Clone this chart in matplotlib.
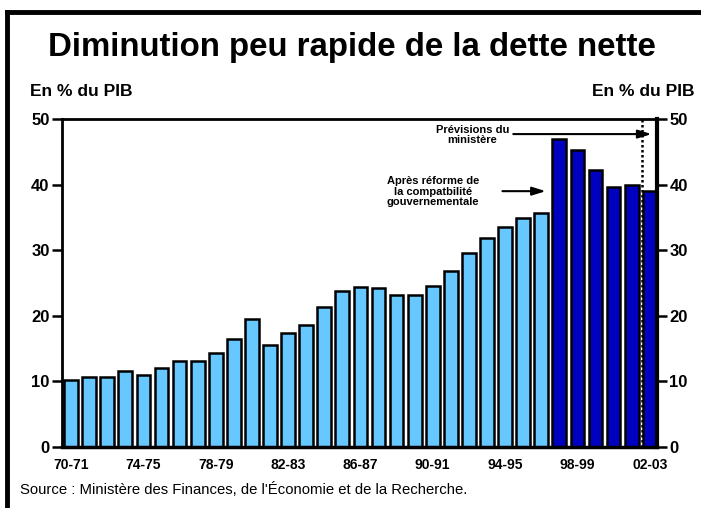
import matplotlib
matplotlib.use("Agg")
import matplotlib.pyplot as plt
from matplotlib.lines import Line2D

plt.rcParams['font.family'] = ['Liberation Sans', 'DejaVu Sans']

years = ["70-71", "71-72", "72-73", "73-74", "74-75", "75-76", "76-77", "77-78",
         "78-79", "79-80", "80-81", "81-82", "82-83", "83-84", "84-85", "85-86",
         "86-87", "87-88", "88-89", "89-90", "90-91", "91-92", "92-93", "93-94",
         "94-95", "95-96", "96-97", "97-98", "98-99", "99-00", "00-01", "01-02",
         "02-03"]
values_old = [10.2, 10.7, 10.7, 11.6, 11.0, 12.0, 13.1, 13.1, 14.3, 16.5, 19.5,
              15.6, 17.4, 18.6, 21.4, 23.8, 24.4, 24.2, 23.2, 23.2, 24.5, 26.9,
              29.6, 31.8, 33.6, 34.9, 35.7]
values_new = [47.0, 45.2, 42.2, 39.7, 40.0, 39.1]
xtick_labels = ["70-71", "74-75", "78-79", "82-83", "86-87", "90-91", "94-95",
                "98-99", "02-03"]
yticks = [0, 10, 20, 30, 40, 50]

light = "#66C8FF"
dark = "#0000C0"

fig = plt.figure(figsize=(7.01, 5.08), dpi=100)
ax = fig.add_axes([62/701, 61/508, 595/701, 328/508])

n_old = len(values_old)
x_old = list(range(n_old))
x_new = list(range(n_old, n_old + len(values_new)))
ax.bar(x_old, values_old, width=0.76, color=light, edgecolor="black", linewidth=1.8, zorder=2)
ax.bar(x_new, values_new, width=0.76, color=dark, edgecolor="black", linewidth=1.8, zorder=2)

ax.set_xlim(-0.5, 32.4)
ax.set_ylim(0, 50)

tick_pos = [years.index(l) for l in xtick_labels]
ax.set_xticks(tick_pos)
ax.set_xticklabels(xtick_labels, fontsize=10, fontweight="bold")
ax.tick_params(axis="x", length=0, pad=8)

ax.set_yticks(yticks)
ax.set_yticklabels([str(v) for v in yticks], fontsize=12, fontweight="bold")
ax.tick_params(axis="y", direction="out", length=7, width=1.8, pad=2,
               left=True, right=True, labelleft=True, labelright=True)

for side in ["left", "top", "bottom"]:
    ax.spines[side].set_linewidth(2)
ax.spines["right"].set_linewidth(3)
ax.spines["bottom"].set_linewidth(2.5)

# dotted forecast separator
ax.axvline(31.55, color="black", linestyle=(0, (1, 1)), linewidth=1.8, zorder=3)

# annotations
ax.annotate("", xy=(32.25, 47.7), xytext=(24.3, 47.7),
            arrowprops=dict(arrowstyle="-|>,head_length=0.8,head_width=0.25",
                            color="black", lw=1.5), zorder=4)
ax.text(22.2, 47.6, "Prévisions du\nministère", ha="center", va="center",
        fontsize=8, fontweight="bold", linespacing=1.05)

ax.annotate("", xy=(26.4, 39.0), xytext=(23.7, 39.0),
            arrowprops=dict(arrowstyle="-|>,head_length=0.8,head_width=0.25",
                            color="black", lw=1.5), zorder=4)
ax.text(20.0, 38.9, "Après réforme de\nla compatbilité\ngouvernementale",
        ha="center", va="center", fontsize=8, fontweight="bold", linespacing=1.05)

# titles and labels
fig.text(352/701, 1 - 47/508, "Diminution peu rapide de la dette nette",
         ha="center", va="center", fontsize=23.8, fontweight="bold")
fig.text(30/701, 1 - 91/508, "En % du PIB", ha="left", va="center",
         fontsize=12.5, fontweight="bold")
fig.text(694/701, 1 - 91/508, "En % du PIB", ha="right", va="center",
         fontsize=12.5, fontweight="bold")
fig.text(20/701, 1 - 490/508,
         "Source : Ministère des Finances, de l'Économie et de la Recherche.",
         ha="left", va="center", fontsize=10.7)

# outer frame (left and top)
fig.add_artist(Line2D([7/701, 7/701], [0, 1 - 12/508], transform=fig.transFigure,
                      color="black", linewidth=3.5, solid_capstyle="projecting"))
fig.add_artist(Line2D([7/701, 1], [1 - 12/508, 1 - 12/508], transform=fig.transFigure,
                      color="black", linewidth=3.5, solid_capstyle="projecting"))

fig.savefig("out.png", dpi=100)
